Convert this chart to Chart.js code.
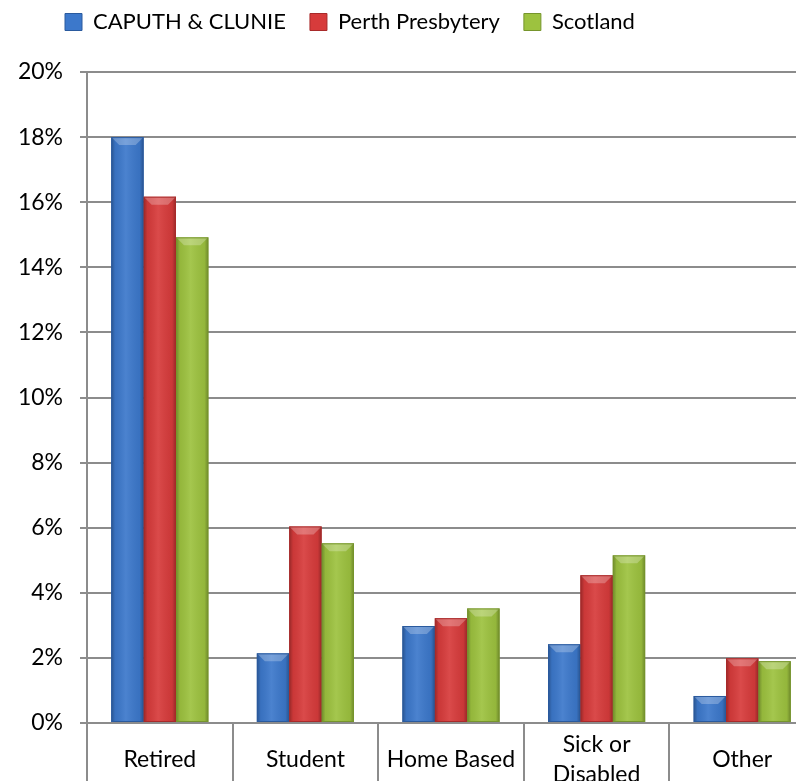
<!DOCTYPE html>
<html>
<head>
<meta charset="utf-8">
<script src="https://cdn.jsdelivr.net/npm/chart.js@4"></script>
<style>
html, body { margin: 0; padding: 0; background: #fff; overflow: hidden; }
#wrap { width: 815px; height: 788px; position: relative; }
</style>
</head>
<body>
<div id="wrap"><canvas id="c"></canvas></div>
<script>
const categories = ['Retired', 'Student', 'Home Based', ['Sick or', 'Disabled'], 'Other'];
const seriesNames = ['CAPUTH & CLUNIE', 'Perth Presbytery', 'Scotland'];
const caputhClunie = [18.0, 2.14, 2.98, 2.42, 0.83];
const perthPresbytery = [16.17, 6.04, 3.22, 4.54, 1.99];
const scotland = [14.92, 5.52, 3.52, 5.15, 1.90];
const yTicks = [0, 2, 4, 6, 8, 10, 12, 14, 16, 18, 20];

const colors = ['#3c78cb', '#d73b3b', '#9dc23f'];
const dark = ['#2a5a9e', '#a82a2a', '#76952c'];
const FONT = 'Lato';
const LEGEND_PAD = 24;

const bevel = {
  id: 'bevel',
  afterLayout(chart) {
    chart.legend.left = 65 - LEGEND_PAD;
  },
  afterDatasetsDraw(chart) {
    const ctx = chart.ctx;
    chart.data.datasets.forEach((ds, di) => {
      const meta = chart.getDatasetMeta(di);
      meta.data.forEach(bar => {
        const w = bar.width, l = bar.x - w / 2, r = bar.x + w / 2;
        const t = Math.min(bar.y, bar.base), b = Math.max(bar.y, bar.base);
        ctx.save();
        const g = ctx.createLinearGradient(l, 0, r, 0);
        g.addColorStop(0, 'rgba(0,0,0,0.30)');
        g.addColorStop(0.12, 'rgba(0,0,0,0.06)');
        g.addColorStop(0.45, 'rgba(255,255,255,0.08)');
        g.addColorStop(0.88, 'rgba(0,0,0,0.06)');
        g.addColorStop(1, 'rgba(0,0,0,0.30)');
        ctx.fillStyle = g;
        ctx.fillRect(l, t, w, b - t);
        const d = Math.min(8, (b - t) / 2);
        ctx.beginPath();
        ctx.moveTo(l, t); ctx.lineTo(r, t); ctx.lineTo(r - d, t + d); ctx.lineTo(l + d, t + d); ctx.closePath();
        ctx.fillStyle = 'rgba(255,255,255,0.25)';
        ctx.fill();
        ctx.strokeStyle = dark[di];
        ctx.lineWidth = 1;
        ctx.strokeRect(l + 0.5, t + 0.5, w - 1, b - t - 1);
        ctx.restore();
      });
    });
  }
};

new Chart(document.getElementById('c'), {
  type: 'bar',
  data: {
    labels: categories,
    datasets: [
      { label: seriesNames[0], data: caputhClunie, backgroundColor: colors[0] },
      { label: seriesNames[1], data: perthPresbytery, backgroundColor: colors[1] },
      { label: seriesNames[2], data: scotland, backgroundColor: colors[2] }
    ]
  },
  options: {
    responsive: true,
    maintainAspectRatio: false,
    animation: false,
    layout: { padding: { top: -13, left: 0, right: 0, bottom: 0 } },
    datasets: { bar: { categoryPercentage: 0.667, barPercentage: 1.0, borderWidth: 0 } },
    plugins: {
      tooltip: { enabled: false },
      legend: {
        position: 'top',
        align: 'start',
        labels: {
          font: { family: FONT, size: 22 },
          color: '#000',
          boxWidth: 17,
          boxHeight: 17,
          padding: LEGEND_PAD,
          generateLabels(chart) {
            return chart.data.datasets.map((ds, i) => ({
              text: ds.label, fillStyle: colors[i], strokeStyle: dark[i], lineWidth: 1, datasetIndex: i
            }));
          }
        }
      }
    },
    scales: {
      xTop: {
        type: 'category',
        position: 'top',
        labels: categories,
        grid: { display: false },
        border: { display: false },
        ticks: { display: false },
        afterFit(s) { s.height = 29; }
      },
      x: {
        position: 'bottom',
        afterFit(s) { s.height = 65; },
        grid: { display: true, drawOnChartArea: false, drawTicks: true, tickLength: 60, color: '#8c8c8c', lineWidth: 2, offset: true },
        border: { display: true, color: '#8c8c8c', width: 2 },
        ticks: { font: { family: FONT, size: 23, lineHeight: 1.3 }, color: '#000', padding: -38, crossAlign: 'center', maxRotation: 0, autoSkip: false }
      },
      y: {
        min: 0, max: 20,
        afterBuildTicks(s) { s.ticks = yTicks.map(v => ({ value: v })); },
        afterFit(s) { s.width = 87; },
        grid: { color: '#8c8c8c', lineWidth: 2, tickLength: 7 },
        border: { color: '#8c8c8c', width: 2 },
        ticks: { font: { family: FONT, size: 23 }, color: '#000', padding: 17, callback: v => v + '%' }
      }
    }
  },
  plugins: [bevel]
});
</script>
</body>
</html>
